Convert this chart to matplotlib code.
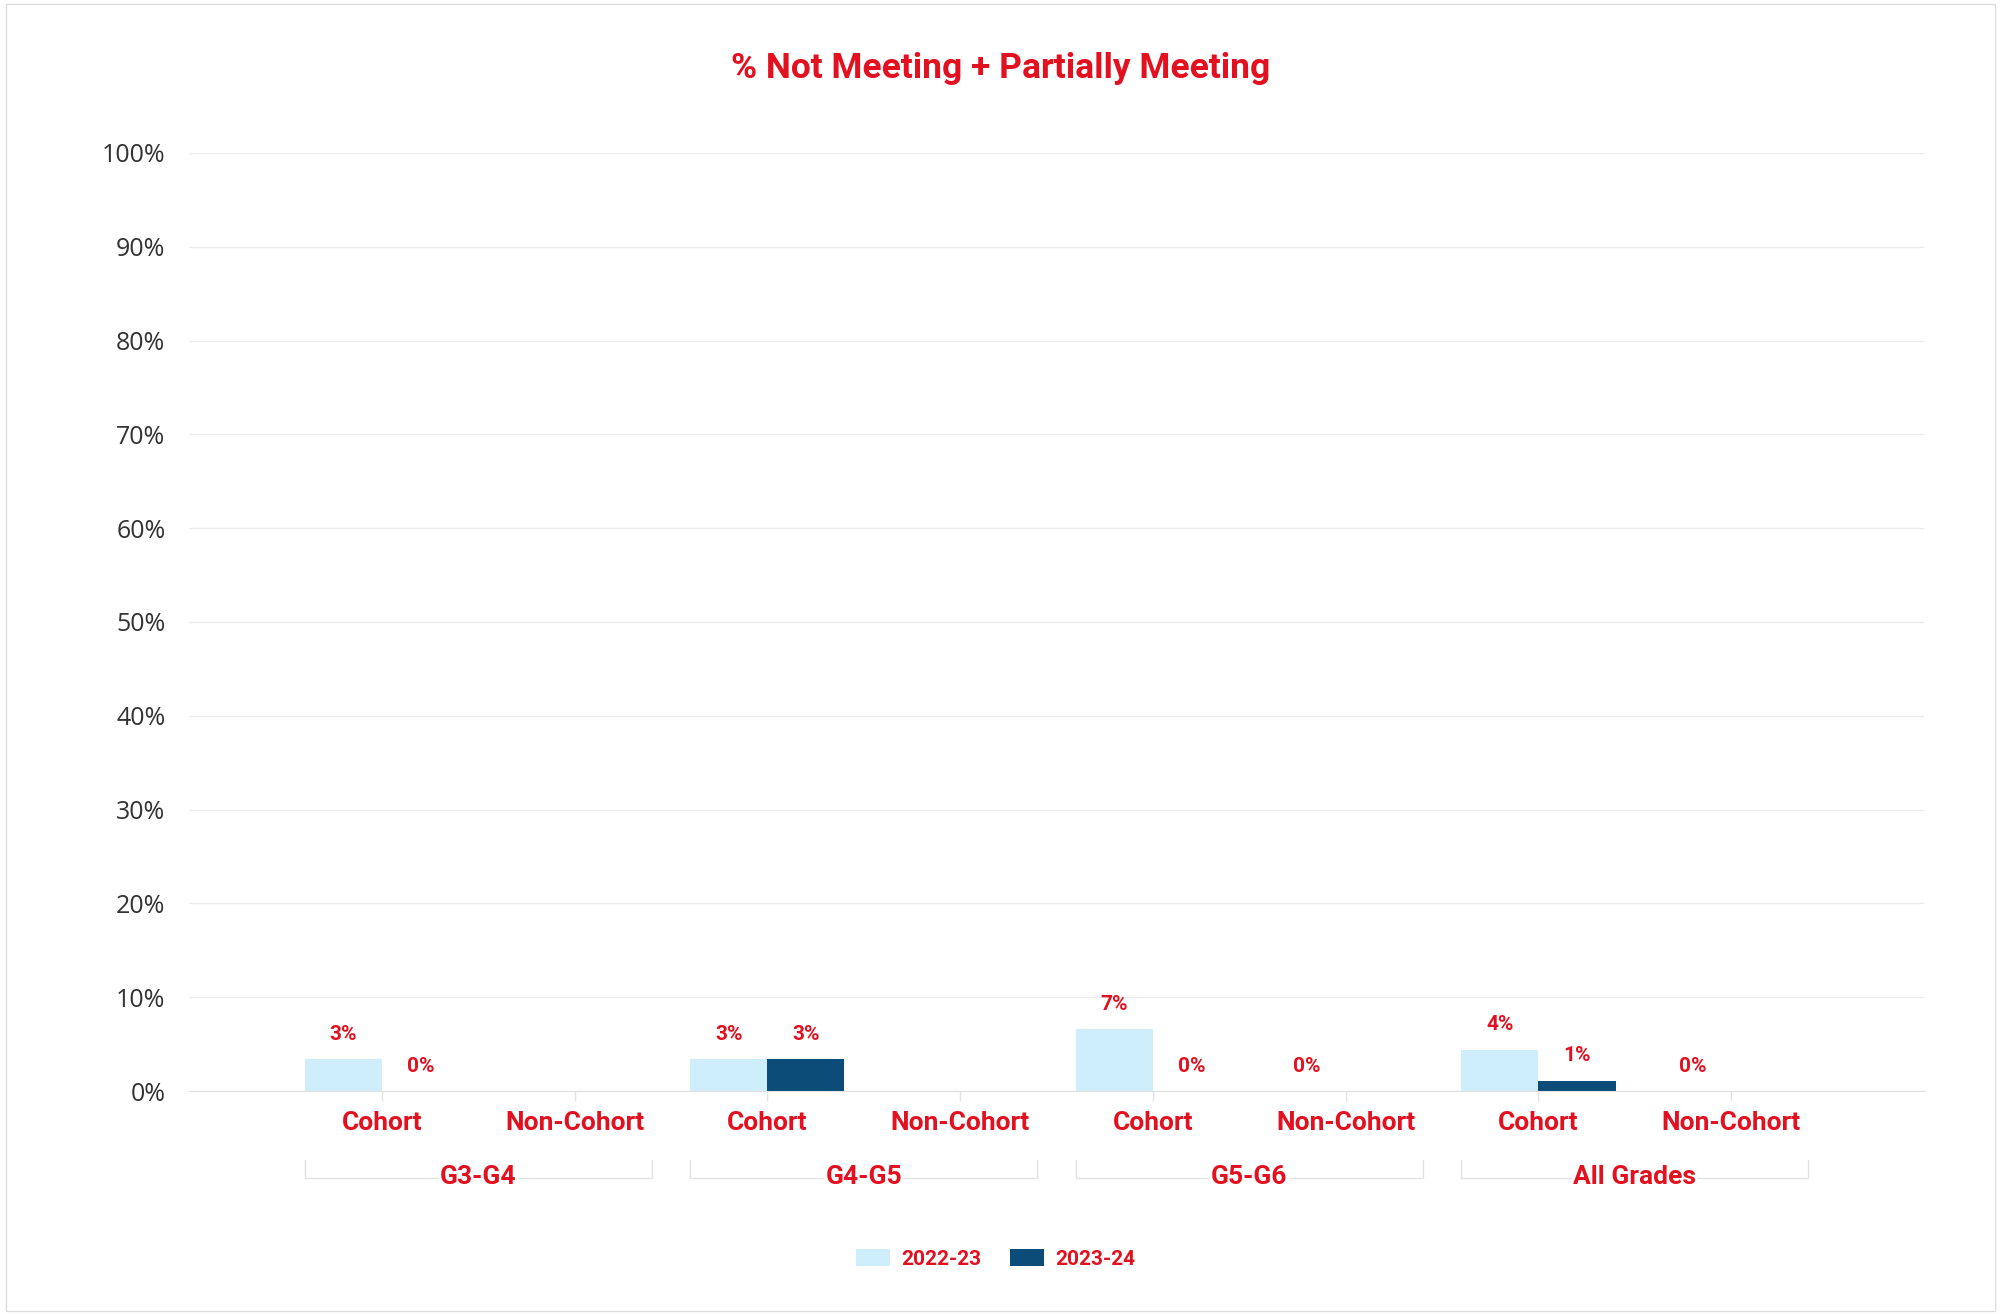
import numpy as np
import matplotlib
matplotlib.use("Agg")
import matplotlib.pyplot as plt
from matplotlib.patches import Patch, Rectangle
from matplotlib.lines import Line2D

# ---- data ----
groups = ["G3-G4", "G4-G5", "G5-G6", "All Grades"]
subcats = ["Cohort", "Non-Cohort"]
series_names = ["2022-23", "2023-24"]
vals_2022 = [3.4, None, 3.4, None, 6.6, 0.0, 4.4, 0.0]
vals_2023 = [0.0, None, 3.4, None, 0.0, None, 1.1, None]
ytick_vals = [0, 10, 20, 30, 40, 50, 60, 70, 80, 90, 100]
title = "% Not Meeting + Partially Meeting"

RED = "#e3101f"
LIGHT = "#cdeefa"
DARK = "#0b4d78"
BOLD = dict(family=["Roboto", "DejaVu Sans"], fontweight="bold", color=RED)

fig = plt.figure(figsize=(20.01, 13.14), dpi=100)
ax = fig.add_axes([0.0945, 0.1697, 0.867, 0.7139])

n = len(vals_2022)
x = np.arange(1, n + 1)
w = 0.4

for vals, off, col in [(vals_2022, -w / 2, LIGHT), (vals_2023, w / 2, DARK)]:
    for xi, v in zip(x, vals):
        if v is None:
            continue
        ax.bar(xi + off, v, width=w, color=col, edgecolor="none", zorder=2)
        ax.annotate(f"{v:.0f}%", xy=(xi + off, v), xytext=(0, 18),
                    textcoords="offset points", ha="center", va="center",
                    fontsize=15, **BOLD)

ax.set_xlim(0, 9)
ax.set_ylim(0, 100)
ax.set_yticks(ytick_vals)
ax.set_yticklabels([f"{t}%" for t in ytick_vals], family=["Open Sans", "DejaVu Sans"],
                   fontsize=18, color="#333333")
ax.tick_params(axis="y", length=0, pad=17)
ax.set_xticks(x)
ax.set_xticklabels([])
ax.tick_params(axis="x", length=7, color="#e3e3e3", width=1)
ax.grid(axis="y", color="#ececec", linewidth=1, zorder=0)
for s in ["top", "right", "left"]:
    ax.spines[s].set_visible(False)
ax.spines["bottom"].set_color("#e0e0e0")

trans = ax.get_xaxis_transform()
# subcategory labels
for i, xi in enumerate(x):
    ax.text(xi, -0.034, subcats[i % 2], transform=trans, ha="center", va="center",
            fontsize=19, clip_on=False, **BOLD)
# group brackets + labels
for g, name in enumerate(groups):
    x0 = x[2 * g] - w
    x1 = x[2 * g + 1] + w
    ax.add_line(Line2D([x0, x0, x1, x1], [-0.0736, -0.0928, -0.0928, -0.0736],
                       transform=trans, color="#e3e3e3", linewidth=1, clip_on=False))
    ax.text((x[2 * g] + x[2 * g + 1]) / 2, -0.0915, name, transform=trans,
            ha="center", va="center", fontsize=19, clip_on=False,
            bbox=dict(facecolor="white", edgecolor="none", pad=1), **BOLD)

fig.text(0.5, 0.948, title, ha="center", va="center", fontsize=25.5, **BOLD)

handles = [Patch(facecolor=LIGHT, edgecolor="none"), Patch(facecolor=DARK, edgecolor="none")]
leg = fig.legend(handles, series_names, loc="center", bbox_to_anchor=(0.4975, 0.042),
                 ncol=2, frameon=False, handlelength=1.63, handleheight=0.87,
                 handletextpad=0.55, columnspacing=1.35,
                 prop=dict(family=["Roboto", "DejaVu Sans"], weight="bold", size=15))
for t in leg.get_texts():
    t.set_color(RED)

fig.add_artist(Rectangle((0.003, 0.002), 0.994, 0.995, transform=fig.transFigure,
                         fill=False, edgecolor="#dddddd", linewidth=1))

fig.savefig("out.png", dpi=100, facecolor="white")
